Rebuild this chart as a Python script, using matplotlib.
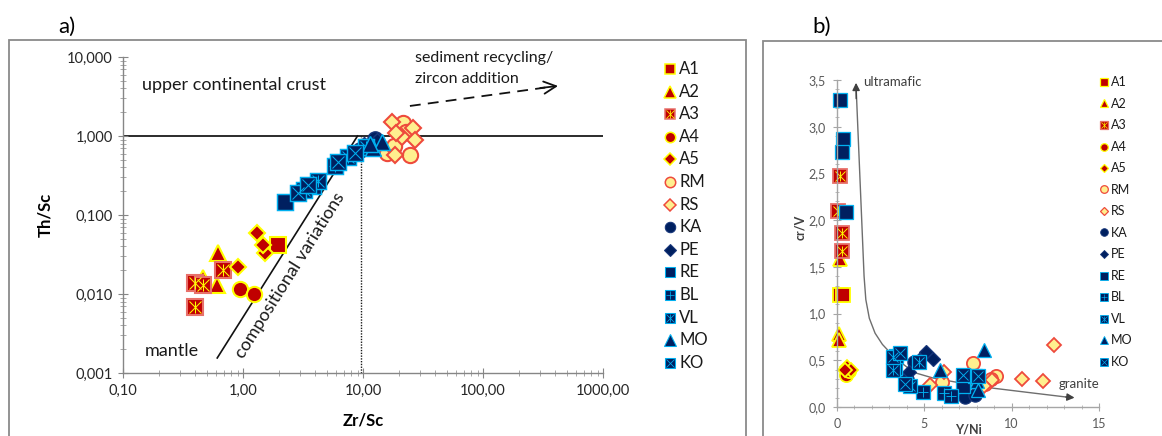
import matplotlib
matplotlib.use("Agg")
import matplotlib.pyplot as plt
from matplotlib.lines import Line2D
from matplotlib.patches import Rectangle
from matplotlib.ticker import FixedLocator, FixedFormatter, NullFormatter
import numpy as np

plt.rcParams['font.family'] = ['Lato', 'DejaVu Sans']

W, H = 1162, 436

RED, YEL, NAVY, CYAN = '#C00000', '#FFFF00', '#002060', '#00B0F0'
CREAM, PINK = '#FFEF8F', '#EE4A3C'

groups = ["A1", "A2", "A3", "A4", "A5", "RM", "RS",
          "KA", "PE", "RE", "BL", "VL", "MO", "KO"]

# (a) Th/Sc versus Zr/Sc, one list per group in the order of `groups`
zr_sc = [
    [1.96],
    [0.62, 0.46, 0.61],
    [0.40, 0.46, 0.68, 0.40],
    [0.94, 1.24],
    [0.91, 1.31, 1.52, 1.47],
    [21.5, 24.6, 15.9, 23.0, 18.0],
    [17.4, 21.0, 26.0, 27.0, 18.5, 19.0],
    [12.6, 9.5],
    [10.2, 13.0],
    [2.24],
    [3.8, 5.8],
    [3.2, 4.2, 7.5, 10.5],
    [12.2, 14.3, 11.4],
    [2.9, 3.5, 6.2, 8.6],
]
th_sc = [
    [0.042],
    [0.033, 0.016, 0.013],
    [0.0138, 0.013, 0.020, 0.0069],
    [0.0115, 0.010],
    [0.022, 0.059, 0.033, 0.042],
    [1.46, 0.57, 0.61, 1.12, 0.75],
    [1.50, 0.98, 1.26, 0.89, 0.57, 1.10],
    [0.92, 0.66],
    [0.78, 0.86],
    [0.146],
    [0.23, 0.42],
    [0.21, 0.27, 0.54, 0.72],
    [0.70, 0.84, 0.80],
    [0.19, 0.24, 0.47, 0.61],
]

# (b) Cr/V versus Y/Ni
y_ni = [
    [0.15, 0.35],
    [0.17, 0.10, 0.12],
    [0.17, 0.05, 0.29, 0.29],
    [0.50, 0.70],
    [0.60, 0.80, 0.45],
    [7.8, 6.0, 9.1, 8.5, 8.8],
    [5.3, 6.1, 8.9, 10.6, 11.8, 12.4, 8.4],
    [4.4, 7.3, 7.9, 4.0],
    [5.1, 5.5, 4.1, 4.7],
    [0.17, 0.35, 0.29, 0.52, 3.3, 7.2],
    [4.9, 6.1, 6.5, 3.4],
    [3.2, 4.2, 7.9, 4.7],
    [8.4, 5.9, 8.0, 8.1],
    [3.2, 3.6, 3.9, 7.2, 8.1],
]
cr_v = [
    [1.20, 1.20],
    [1.58, 0.78, 0.72],
    [2.47, 2.10, 1.86, 1.67],
    [0.34, 0.38],
    [0.43, 0.40, 0.40],
    [0.47, 0.27, 0.33, 0.25, 0.30],
    [0.24, 0.37, 0.29, 0.30, 0.28, 0.66, 0.22],
    [0.48, 0.11, 0.13, 0.30],
    [0.59, 0.51, 0.37, 0.50],
    [3.29, 2.87, 2.73, 2.09, 0.42, 0.22],
    [0.16, 0.15, 0.12, 0.55],
    [0.40, 0.23, 0.33, 0.48],
    [0.61, 0.40, 0.28, 0.18],
    [0.54, 0.58, 0.25, 0.34, 0.33],
]

# marker, face, edge, inner symbols
styles = {
    "A1": ('s', RED, YEL, []),
    "A2": ('^', RED, YEL, []),
    "A3": ('s', RED, '#E8706A', ['x', '|']),
    "A4": ('o', RED, YEL, []),
    "A5": ('D', RED, YEL, []),
    "RM": ('o', CREAM, PINK, []),
    "RS": ('D', CREAM, PINK, []),
    "KA": ('o', NAVY, '#17367A', []),
    "PE": ('D', NAVY, '#17367A', []),
    "RE": ('s', NAVY, CYAN, []),
    "BL": ('s', NAVY, CYAN, ['+']),
    "VL": ('s', NAVY, CYAN, ['x', '|']),
    "MO": ('^', NAVY, CYAN, []),
    "KO": ('s', NAVY, CYAN, ['x']),
}


def draw_marker(target, x, y, name, ms, mew, transform=None):
    """Draw one group's symbol (outer shape plus inner strokes)."""
    m, fc, ec, inner = styles[name]
    size = ms * (0.78 if m == 'D' else (1.1 if m == '^' else 1.0))
    edge_w = mew if fc in (RED, CREAM) else mew * 0.7
    icol = YEL if fc == RED else CYAN
    layers = [dict(marker=m, ms=size, mfc=fc, mec=ec, mew=edge_w)]
    for s in inner:
        layers.append(dict(marker=s, ms=ms * (0.75 if s != '|' else 0.82),
                           mec=icol, mew=mew * 0.5))
    for kw in layers:
        if transform is None:
            target.plot(x, y, ls='none', clip_on=False, **kw)
        else:
            target.add_artist(Line2D(x, y, ls='none', transform=transform, **kw))


def key(fig, x_px, y0_px, dy_px, text_x_px, ms, mew, fontsize):
    for i, g in enumerate(groups):
        ypx = y0_px + i * dy_px
        draw_marker(fig, [x_px / W], [1 - ypx / H], g, ms, mew,
                    transform=fig.transFigure)
        fig.text(text_x_px / W, 1 - ypx / H, g, fontsize=fontsize,
                 va='center', ha='left', color='#1A1A1A')


fig = plt.figure(figsize=(W / 100, H / 100), dpi=100)

# panel frames
fig.patches.append(Rectangle((9 / W, -0.05), (746 - 9) / W, 1.05 - 40 / H,
                             transform=fig.transFigure, fill=False,
                             ec='#8A8A8A', lw=1.3))
fig.patches.append(Rectangle((763 / W, -0.05), 1.02 - 763 / W, 1.05 - 41 / H,
                             transform=fig.transFigure, fill=False,
                             ec='#8A8A8A', lw=1.3))

fig.text(58 / W, 1 - 33 / H, "a)", fontsize=16, va='baseline')
fig.text(812 / W, 1 - 33 / H, "b)", fontsize=16, va='baseline')

# ---------------- panel a ----------------
ax = fig.add_axes([123 / W, 1 - 373 / H, (603 - 123) / W, (373 - 57) / H])
ax.set_xscale('log')
ax.set_yscale('log')
ax.set_xlim(0.1, 1000)
ax.set_ylim(0.001, 10)
for s in ('top', 'right'):
    ax.spines[s].set_visible(False)
for s in ('left', 'bottom'):
    ax.spines[s].set_color('#868686')
    ax.spines[s].set_linewidth(1.0)

xt = [0.1, 1, 10, 100, 1000]
xt_lab = ["0,10", "1,00", "10,00", "100,00", "1000,00"]
yt = [0.001, 0.01, 0.1, 1, 10]
yt_lab = ["0,001", "0,010", "0,100", "1,000", "10,000"]
ax.xaxis.set_major_locator(FixedLocator(xt))
ax.xaxis.set_major_formatter(FixedFormatter(xt_lab))
ax.yaxis.set_major_locator(FixedLocator(yt))
ax.yaxis.set_major_formatter(FixedFormatter(yt_lab))
ax.xaxis.set_minor_formatter(NullFormatter())
ax.yaxis.set_minor_formatter(NullFormatter())
ax.tick_params(which='major', direction='inout', length=7, color='#868686',
               labelsize=10.5, labelcolor='#262626', pad=4)
ax.tick_params(which='minor', direction='inout', length=4, color='#9A9A9A')

ax.plot([0.1, 1000], [1, 1], color='#1A1A1A', lw=1.3, zorder=1)
ax.plot([9.6, 9.6], [0.001, 1], color='#1A1A1A', lw=1.0, ls=(0, (1, 1)), zorder=1)
ax.plot([0.61, 9.0], [0.00155, 1.0], color='#111111', lw=1.2, zorder=1)
ax.plot([24.6, 330], [2.4, 4.1], color='#111111', lw=1.3, ls=(0, (6, 4)))
ax.annotate('', xy=(422, 4.3), xytext=(300, 4.05),
            arrowprops=dict(arrowstyle='->', lw=1.3, color='#111111',
                            mutation_scale=22, shrinkA=0, shrinkB=0))

ax.text(0.144, 4.4, "upper continental crust", fontsize=13, va='center', ha='left',
        color='#1A1A1A')
ax.text(27.1, 9.7, "sediment recycling/", fontsize=11.5, va='center', ha='left',
        color='#1A1A1A')
ax.text(27.1, 5.3, "zircon addition", fontsize=11.5, va='center', ha='left',
        color='#1A1A1A')
ax.text(0.257, 0.0019, "mantle", fontsize=13, va='center', ha='center', color='#1A1A1A')
ax.text(2.46, 0.017, "compositional variations", fontsize=13, va='center',
        ha='center', rotation=58, rotation_mode='anchor', color='#1A1A1A')

for g, xs, ys in zip(groups, zr_sc, th_sc):
    draw_marker(ax, xs, ys, g, ms=11, mew=1.5)

fig.text(45 / W, 1 - 215 / H, "Th/Sc", rotation=90, fontsize=12, fontweight='bold',
         ha='center', va='center')
fig.text(363 / W, 1 - 420 / H, "Zr/Sc", fontsize=12, fontweight='bold',
         ha='center', va='center')

key(fig, 670, 69, 22.6, 679, ms=7.5, mew=1.1, fontsize=12)

# ---------------- panel b ----------------
bx = fig.add_axes([837 / W, 1 - 407 / H, (1099 - 837) / W, (407 - 80) / H])
bx.set_xlim(0, 15)
bx.set_ylim(0, 3.5)
for s in ('top', 'right'):
    bx.spines[s].set_visible(False)
for s in ('left', 'bottom'):
    bx.spines[s].set_color('#A6A6A6')
    bx.spines[s].set_linewidth(1.0)

bxt = [0, 5, 10, 15]
bxt_lab = ["0", "5", "10", "15"]
byt = [0.0, 0.5, 1.0, 1.5, 2.0, 2.5, 3.0, 3.5]
byt_lab = ["0,0", "0,5", "1,0", "1,5", "2,0", "2,5", "3,0", "3,5"]
bx.xaxis.set_major_locator(FixedLocator(bxt))
bx.xaxis.set_major_formatter(FixedFormatter(bxt_lab))
bx.yaxis.set_major_locator(FixedLocator(byt))
bx.yaxis.set_major_formatter(FixedFormatter(byt_lab))
bx.xaxis.set_minor_locator(FixedLocator(np.arange(0, 15.5, 1)))
bx.yaxis.set_minor_locator(FixedLocator(np.arange(0, 3.55, 0.1)))
bx.tick_params(which='major', direction='inout', length=6, color='#A6A6A6',
               labelsize=9, labelcolor='#595959', pad=5)
bx.tick_params(which='minor', direction='inout', length=3, color='#B0B0B0')

guide_x = [1.1, 1.55, 1.65, 1.85, 2.18, 2.6, 2.9, 3.5, 4.4, 5.5, 7.0, 9.0, 11.2, 13.2]
guide_y = [3.40, 1.40, 1.15, 0.95, 0.79, 0.67, 0.61, 0.50, 0.37, 0.31, 0.26, 0.20, 0.15, 0.105]
bx.plot(guide_x, guide_y, color='#6E6E6E', lw=1.0, zorder=1)
bx.annotate('', xy=(1.09, 3.47), xytext=(1.1, 3.30),
            arrowprops=dict(arrowstyle='-|>', color='#404040', lw=1.0,
                            mutation_scale=11, shrinkA=0, shrinkB=0))
bx.annotate('', xy=(13.6, 0.10), xytext=(13.1, 0.107),
            arrowprops=dict(arrowstyle='-|>', color='#404040', lw=1.0,
                            mutation_scale=11, shrinkA=0, shrinkB=0))
bx.text(1.5, 3.48, "ultramafic", fontsize=9.5, color='#404040', va='center', ha='left')
bx.text(12.7, 0.25, "granite", fontsize=9.5, color='#404040', va='center', ha='left')

for g, xs, ys in zip(groups, y_ni, cr_v):
    draw_marker(bx, xs, ys, g, ms=9.5, mew=1.3)

fig.text(800 / W, 1 - 227 / H, "cr/V", rotation=90, fontsize=9, fontweight='bold',
         ha='center', va='center', color='#404040')
fig.text(968 / W, 1 - 429 / H, "Y/Ni", fontsize=9, fontweight='bold',
         ha='center', va='center', color='#404040')

key(fig, 1104, 82, 21.5, 1111, ms=5.5, mew=0.9, fontsize=9)

fig.savefig("out.png", dpi=100)
